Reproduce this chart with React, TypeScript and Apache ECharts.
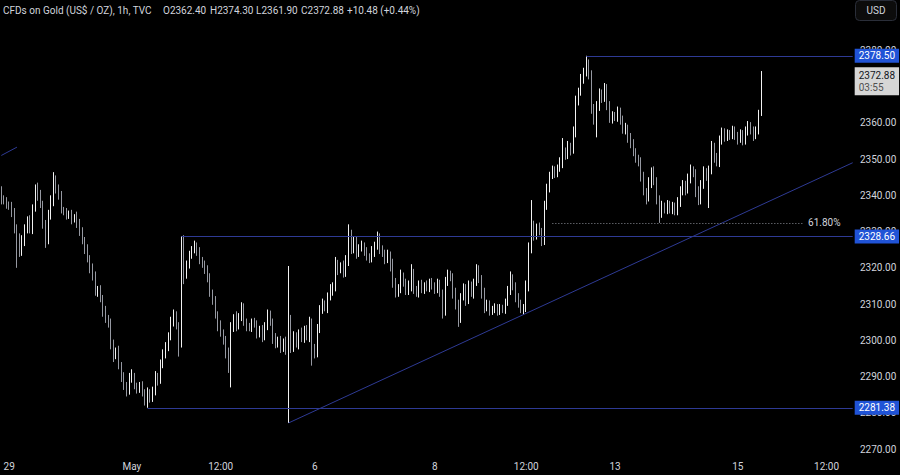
import React, { useEffect, useRef } from 'react';
import * as echarts from 'echarts';

// ---- data (hourly candles) ----
const firstOpen = 2341;
const closes: number[] = [
  // 0-9
  2339, 2338.5, 2337.5, 2337, 2335, 2331, 2328, 2324.5, 2327, 2331,
  // 10-19
  2333, 2330.5, 2336.5, 2341, 2340, 2337.5, 2332, 2327.5, 2334.5, 2338,
  // 20-29
  2344, 2342, 2340, 2336, 2335.5, 2334.5, 2335, 2333.5, 2334, 2332.5,
  // 30-39
  2330, 2327.5, 2325, 2322.5, 2320, 2317.5, 2313.5, 2314, 2311.5, 2308,
  // 40-49
  2306, 2304.5, 2299, 2296, 2297, 2293, 2290, 2287.5, 2286, 2289.5,
  // 50-59
  2290, 2287.5, 2286.5, 2287.5, 2285.5, 2283, 2285.5, 2284, 2286, 2290,
  // 60-69
  2289, 2293.5, 2296, 2298.5, 2301, 2305, 2306.5, 2304, 2299.5, 2326.5,
  // 70-79
  2318, 2321, 2323.5, 2325, 2326, 2324.5, 2322, 2321, 2319.5, 2317,
  // 80-89
  2313, 2311, 2307, 2304, 2302, 2300, 2297, 2293.5, 2303.5, 2306,
  // 90-99
  2304, 2306.5, 2309, 2305, 2304, 2303.5, 2305, 2304.5, 2302, 2303,
  // 100-109
  2301, 2304, 2307, 2305, 2300.5, 2299, 2300, 2298, 2299.5, 2297,
  // 110-119
  2305, 2298, 2301, 2299, 2302, 2300.5, 2303, 2301, 2304.5, 2298,
  // 120-129
  2296.5, 2303, 2308.5, 2310, 2309, 2312, 2313.5, 2314.5, 2321, 2319.5,
  // 130-139
  2320.5, 2318.5, 2322, 2329, 2325, 2327.5, 2324, 2325.5, 2326, 2324.5,
  // 140-149
  2323, 2322.5, 2324.5, 2326, 2328.5, 2325, 2324, 2322.5, 2323.5, 2321,
  // 150-159
  2316, 2313, 2314.5, 2317.5, 2316, 2313.5, 2315, 2318.5, 2314, 2313,
  // 160-169
  2315.5, 2314, 2315, 2314.5, 2316, 2315, 2314, 2315.5, 2313, 2308,
  // 170-179
  2316, 2318, 2317.5, 2313, 2310, 2306, 2312, 2314.5, 2311, 2315,
  // 180-189
  2313, 2316, 2319.5, 2317, 2313, 2309, 2310, 2308, 2308.5, 2309,
  // 190-199
  2308, 2309, 2308.5, 2310.5, 2313.5, 2317, 2315, 2312, 2310, 2308.5,
  // 200-209
  2309, 2315, 2325.5, 2331.5, 2329, 2331, 2330, 2327.5, 2337, 2342,
  // 210-219
  2345.5, 2347, 2346, 2347.5, 2349, 2352, 2351, 2353.5, 2352.5, 2357.5,
  // 220-229
  2366, 2368.5, 2372, 2374, 2376, 2373, 2364, 2361, 2364.5, 2368,
  // 230-239
  2367, 2369.5, 2365, 2361, 2362, 2361.5, 2363, 2361, 2358, 2358.5,
  // 240-249
  2356, 2354, 2352, 2350, 2349.5, 2345, 2341, 2339.5, 2343.5, 2346.5,
  // 250-259
  2344, 2339, 2335, 2337, 2336, 2337.5, 2336, 2337, 2335.5, 2338,
  // 260-269
  2341, 2343, 2341.5, 2344.5, 2347, 2346, 2341, 2338.5, 2343, 2346.5,
  // 270-279
  2345, 2347, 2353.5, 2350.5, 2349, 2355, 2357.5, 2356, 2357, 2356.5,
  // 280-289
  2358, 2356.5, 2355.5, 2357, 2355, 2357.5, 2359, 2358, 2356.5, 2357.8,
  // 290-291
  2362.4, 2372.88,
];

// upper wick above the body, per candle
const upperWicks: number[] = [
  // 0-19
  1.5, 1, 1, 0.8, 1.2, 1.5, 1, 1.5, 2, 1, 1.2, 1.5, 1, 2, 2.5, 1.5, 1, 1.2, 1.5, 2,
  // 20-39
  2.4, 1.5, 1, 1.2, 0.8, 1, 0.8, 1, 0.8, 1.5, 1, 1.2, 1, 1.5, 1, 1.2, 1.5, 1, 1.2, 1,
  // 40-59
  1.5, 1, 1.5, 1.2, 1, 1.5, 1, 1.2, 1, 1.5, 2, 1, 0.8, 1, 1.2, 1, 1.5, 1, 1.2, 1.5,
  // 60-79
  1, 1.2, 1.5, 1, 1.2, 1.5, 2, 1.5, 1, 2.2, 2.5, 1, 1.2, 1, 1.5, 1, 1.2, 1, 1, 1.2,
  // 80-99
  1.5, 1, 1.2, 1, 1.5, 1, 1.2, 1, 1.5, 1.2, 2, 1, 1.5, 1.2, 1, 0.8, 1, 1.2, 1, 1,
  // 100-119
  1.2, 1, 1.5, 1.2, 1, 1.5, 1, 1.2, 1, 1.5, 15.5, 2, 1.5, 1.2, 1, 1.5, 1, 1.2, 2, 1.5,
  // 120-139
  1, 1.5, 1.2, 1.5, 1, 1.2, 2, 1.5, 2, 1.2, 1, 1.5, 1.5, 3, 1.5, 1, 1.2, 1, 1.5, 1,
  // 140-159
  1.2, 1, 1.5, 1.2, 1.5, 1, 1.2, 1, 1.5, 1, 1.5, 1.2, 1, 2, 1.2, 1, 1.5, 2.5, 1.2, 1,
  // 160-179
  1, 1.2, 1, 1.5, 1, 1.2, 1, 1.5, 1.2, 1, 1.5, 1.5, 1.2, 1, 1.5, 1.2, 1, 1.2, 1, 1.5,
  // 180-199
  1.2, 1, 1.5, 1.2, 1, 1.5, 1.2, 1, 1, 1.2, 1, 1, 0.8, 1, 1.5, 2, 1.2, 1, 1, 1.2,
  // 200-219
  1, 1.5, 1.5, 7.2, 1.5, 1.2, 1.5, 1, 1.5, 1.2, 1, 1.2, 1, 1, 1.5, 3.8, 1.2, 1.5, 1, 1.5,
  // 220-239
  1.5, 1.2, 1.5, 1.2, 2.5, 1.5, 1.5, 1.2, 1.5, 1.5, 1.2, 1.5, 1.2, 1, 1.2, 1, 1.5, 1.2, 1, 1.5,
  // 240-259
  1, 1.2, 1.5, 1, 1.2, 1, 1.5, 1, 1.5, 1.2, 1.5, 1, 1, 1.5, 1, 1.2, 1, 1.2, 1, 1.5,
  // 260-279
  1.5, 1.2, 1, 1.5, 1.5, 1, 1.2, 1.5, 1.2, 1.5, 1, 1.2, 1.5, 1, 1.2, 1.5, 1.2, 1, 1.2, 1,
  // 280-291
  1.2, 1, 1, 1.2, 1, 1.5, 1.5, 1.2, 1, 1.2, 1.2, 1.42,
];

// lower wick below the body, per candle
const lowerWicks: number[] = [
  // 0-19
  1.5, 1, 1.2, 1, 1, 1.5, 8, 1.5, 1.2, 1, 1.5, 1, 1.2, 1, 1.5, 1, 1.2, 2, 1, 1.2,
  // 20-39
  1, 1.5, 1.2, 1, 1, 1.2, 1, 1.5, 1, 1.5, 1.2, 1, 1.2, 1, 1.5, 1, 1.2, 1.5, 1, 1.5,
  // 40-59
  1.2, 1, 1.5, 2, 1.2, 1, 1.5, 1.2, 1.5, 1, 1.2, 1, 1.2, 1, 1, 1, 1.62, 1.2, 1, 1.2,
  // 60-79
  1.5, 1, 1.2, 1, 1.5, 1, 1.2, 1, 4, 1.5, 2.5, 1, 1.2, 1, 1, 1.2, 1, 1, 1.2, 1,
  // 80-99
  1, 1.2, 1, 1.5, 1, 1.2, 2, 2.5, 6.5, 1.2, 1.5, 1, 1.2, 1, 1.5, 1, 1.2, 1, 1.5, 1.2,
  // 100-119
  1.5, 1, 1.2, 1, 1.5, 1.2, 1, 1.5, 1.2, 1, 19.8, 1.5, 1.2, 1, 1.5, 1, 1.2, 1, 1.5, 5,
  // 120-139
  1.5, 1.2, 1, 1.2, 1, 1.5, 1, 1.2, 1, 1.5, 1, 1.2, 1, 1.5, 1.2, 1, 1.5, 1, 1, 1.2,
  // 140-159
  1, 1.2, 1, 1.5, 1, 1.2, 1, 1.5, 1.2, 2, 1.5, 1.2, 1, 1.5, 1.2, 1, 1, 1.5, 1.2, 1,
  // 160-179
  1.2, 1, 1.2, 1, 1.2, 1, 1.2, 1, 1, 2, 1.2, 1, 1.2, 1.5, 1.5, 2.3, 1.2, 1, 1.5, 1,
  // 180-199
  1, 1.5, 1, 1.2, 1.5, 1.5, 1, 1.2, 1, 1, 1.2, 1, 1, 1.2, 1, 1, 1.2, 1.5, 1, 1,
  // 200-219
  1.5, 1.2, 1.5, 1.5, 1.5, 1.2, 1, 1.5, 1.2, 1, 1.2, 1, 1.2, 1, 1, 1.5, 1.2, 1, 1.5, 1,
  // 220-239
  1.5, 1.2, 1, 1.2, 1.2, 1, 1.5, 1.5, 5, 1.2, 1.5, 1.2, 1.5, 1, 1.2, 1, 1.2, 1.5, 1, 1.2,
  // 240-259
  1.5, 1, 1.2, 1, 1.5, 1.2, 1, 2, 1.2, 1.5, 1.2, 1.5, 2.6, 1.2, 1, 1.2, 1, 1.2, 1, 1,
  // 260-279
  1.2, 1, 1.5, 1, 1.2, 1, 1.5, 1.2, 1, 1.2, 1, 8.5, 1.2, 1.5, 1, 1.2, 1, 1.2, 1, 1.2,
  // 280-291
  1, 1.2, 1.5, 1, 1.2, 1, 1, 1.2, 1.5, 1, 1, 0.5,
];

const totalSlots = 327; // hourly slots incl. empty space on the right
const tickSlots = [3, 50, 84, 120, 166, 201, 235, 282, 316];
const tickLabels = ['29', 'May', '12:00', '6', '8', '12:00', '13', '15', '12:00'];

const levelValues = [2378.5, 2328.66, 2281.38];
const levelStarts = [224, 69, 56];
const levelTexts = ['2378.50', '2328.66', '2281.38'];

const trendStart: [number, number] = [110, 2277.2];
const trendEnd: [number, number] = [326, 2349.0];
const oldTrendStart: [number, number] = [0, 2351];
const oldTrendEnd: [number, number] = [6, 2353.3];

const fibValue = 2332.4;
const fibFrom = 211;
const fibTo = 307;
const fibText = '61.80%';

const lastPrice = 2372.88;
const lastPriceText = '2372.88';
const countdownText = '03:55';

const headerTexts = ['CFDs on Gold (US$ / OZ), 1h, TVC', 'O2362.40', 'H2374.30', 'L2361.90', 'C2372.88', '+10.48 (+0.44%)'];
const headerX = [3, 163, 210, 256, 301, 347];

const FONT = 'Roboto, "Noto Sans", sans-serif';
const TEXT = '#d1d4dc';
const LINE_BLUE = '#2e3a94';
const TAG_BLUE = '#2053d6';

export default function App() {
  const ref = useRef<HTMLDivElement>(null);

  useEffect(() => {
    if (!ref.current) return;
    const chart = echarts.init(ref.current, null, { renderer: 'svg' });

    const categories = Array.from({ length: totalSlots }, (_, i) => String(i));
    const labelOf: Record<string, string> = {};
    tickSlots.forEach((s, k) => (labelOf[String(s)] = tickLabels[k]));

    const candles = closes.map((c, i) => {
      const o = i === 0 ? firstOpen : closes[i - 1];
      const h = Math.max(o, c) + upperWicks[i];
      const l = Math.min(o, c) - lowerWicks[i];
      return [o, c, l, h];
    });

    const lastSlot = totalSlots - 1;
    const markData: any[] = [];
    levelValues.forEach((v, k) => {
      markData.push([
        {
          coord: [levelStarts[k], v],
          lineStyle: { color: LINE_BLUE, width: 1, type: 'solid' },
          label: {
            show: true, position: 'end', formatter: levelTexts[k], distance: 2,
            backgroundColor: TAG_BLUE, color: '#ffffff', padding: [2, 4, 2, 4],
            fontSize: 10, fontFamily: FONT,
          },
        },
        { coord: [lastSlot, v] },
      ]);
    });
    markData.push([
      { coord: trendStart, lineStyle: { color: LINE_BLUE, width: 1, type: 'solid' }, label: { show: false } },
      { coord: trendEnd },
    ]);
    markData.push([
      { coord: oldTrendStart, lineStyle: { color: LINE_BLUE, width: 1, type: 'solid' }, label: { show: false } },
      { coord: oldTrendEnd },
    ]);
    markData.push([
      {
        coord: [fibFrom, fibValue],
        lineStyle: { color: '#8a8d96', width: 1, type: [1, 2] },
        label: { show: true, position: 'end', formatter: fibText, distance: 5, color: TEXT, fontSize: 10, fontFamily: FONT },
      },
      { coord: [fibTo, fibValue] },
    ]);
    markData.push([
      {
        coord: [closes.length - 1, lastPrice],
        lineStyle: { color: 'rgba(0,0,0,0)', width: 1 },
        label: {
          show: true, position: 'end', distance: 2,
          formatter: '{a|' + lastPriceText + '}\n{b|' + countdownText + '}',
          backgroundColor: '#d6d6d6', padding: [2, 4, 2, 4], offset: [0, 5],
          rich: {
            a: { color: '#131722', fontSize: 10, fontFamily: FONT, lineHeight: 12 },
            b: { color: '#505050', fontSize: 10, fontFamily: FONT, lineHeight: 12 },
          },
        },
      },
      { coord: [lastSlot, lastPrice] },
    ]);

    const graphic: any[] = headerTexts.map((t, k) => ({
      type: 'text', x: headerX[k], y: 10, z: 100,
      style: { text: t, fill: TEXT, font: 'normal 10px ' + FONT, textVerticalAlign: 'middle' },
    }));
    graphic.push({
      type: 'rect', z: 100, shape: { x: 855.5, y: 0.5, width: 41, height: 20, r: 4 },
      style: { fill: '#0c0c0c', stroke: '#2a2e39', lineWidth: 1 },
    });
    graphic.push({
      type: 'text', z: 101, x: 876, y: 10.5,
      style: { text: 'USD', fill: TEXT, font: 'normal 10px ' + FONT, textAlign: 'center', textVerticalAlign: 'middle' },
    });

    chart.setOption({
      backgroundColor: '#000000',
      animation: false,
      grid: { left: 0, right: 46, top: 0, bottom: 20 },
      xAxis: {
        type: 'category', data: categories, boundaryGap: true,
        axisLine: { show: false }, axisTick: { show: false }, splitLine: { show: false },
        axisLabel: {
          interval: (i: number) => tickSlots.includes(i),
          formatter: (v: string) => labelOf[v] || '',
          color: TEXT, fontSize: 10, fontFamily: FONT, margin: 6,
        },
      },
      yAxis: {
        type: 'value', position: 'right', min: 2268.35, max: 2393.9,
        splitNumber: 12, minInterval: 10, maxInterval: 10,
        axisLine: { show: false }, axisTick: { show: false }, splitLine: { show: false },
        axisLabel: {
          color: TEXT, fontSize: 10, fontFamily: FONT, margin: 6,
          showMinLabel: false, showMaxLabel: false,
          formatter: (v: number) => {
            const r = Math.round(v / 10) * 10;
            return Math.abs(v - r) < 1e-6 && v <= 2380 ? v.toFixed(2) : '';
          },
        },
      },
      series: [
        {
          type: 'candlestick',
          data: candles,
          barWidth: 1,
          itemStyle: {
            color: '#f2f2f2', color0: '#9598a1',
            borderColor: '#f2f2f2', borderColor0: '#9598a1', borderWidth: 1,
          },
          markLine: {
            silent: true, animation: false, symbol: ['none', 'none'],
            label: { show: false },
            emphasis: { disabled: true },
            data: markData,
          },
        },
      ],
      graphic,
    });

    return () => chart.dispose();
  }, []);

  return <div ref={ref} style={{ position: 'fixed', left: 0, top: 0, width: 900, height: 475, background: '#000' }} />;
}
